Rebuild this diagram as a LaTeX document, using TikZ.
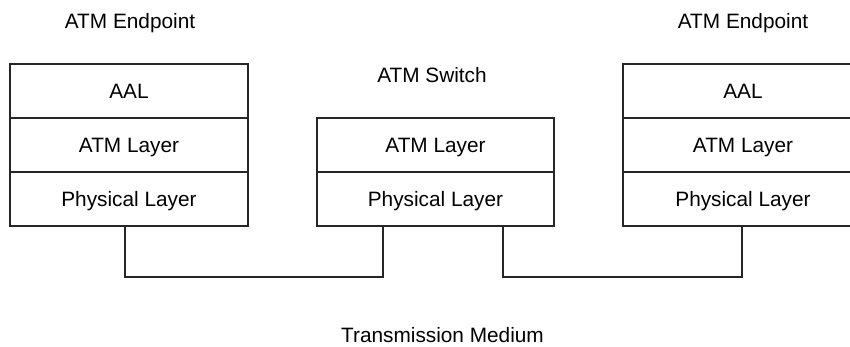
\documentclass[tikz,border=0pt]{standalone}
\usepackage{fontspec}
\setmainfont{Liberation Sans}
\begin{document}
\begin{tikzpicture}[x=1pt,y=-1pt,
  layerbox/.style={draw=black!85, line width=1.6pt, rectangle, inner sep=0pt,
    minimum height=54pt, text height=15pt, text depth=0pt,
    font=\fontsize{20.8}{25}\selectfont},
  lbl/.style={anchor=base, inner sep=0pt, font=\fontsize{20.8}{25}\selectfont},
  wire/.style={draw=black!85, line width=1.6pt}]
\useasboundingbox (0,0) rectangle (850,347);
\clip (0,0) rectangle (850,347);
\fill[white] (0,0) rectangle (850,347);
% left endpoint
\node[layerbox, minimum width=238pt] (la) at (129,91) {AAL};
\node[layerbox, minimum width=238pt] (lt) at (129,145) {ATM Layer};
\node[layerbox, minimum width=238pt] (lp) at (129,199) {Physical Layer};
% switch
\node[layerbox, minimum width=237pt] (mt) at (435.5,145) {ATM Layer};
\node[layerbox, minimum width=237pt] (mp) at (435.5,199) {Physical Layer};
% right endpoint
\node[layerbox, minimum width=240pt] (ra) at (743,91) {AAL};
\node[layerbox, minimum width=240pt] (rt) at (743,145) {ATM Layer};
\node[layerbox, minimum width=240pt] (rp) at (743,199) {Physical Layer};
% labels
\node[lbl] (le) at (130,28.5) {ATM Endpoint};
\node[lbl] (sw) at (432,82.5) {ATM Switch};
\node[lbl] (re) at (743,28.5) {ATM Endpoint};
\node[lbl] (tm) at (442.5,342.5) {Transmission Medium};
% medium
\coordinate (m1) at (250,277);
\coordinate (m2) at (620,277);
\draw[wire] ([xshift=-4pt]lp.south) |- (m1) -| ([xshift=-52.5pt]mp.south);
\draw[wire] ([xshift=67.5pt]mp.south) |- (m2) -| ([xshift=-1pt]rp.south);
\end{tikzpicture}
\end{document}
